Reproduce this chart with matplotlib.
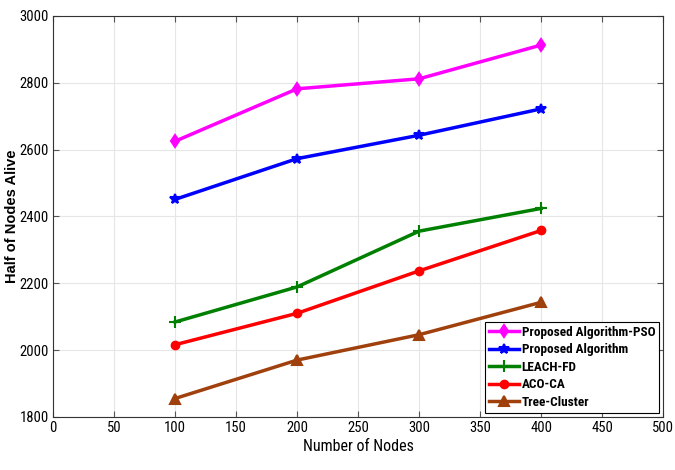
import matplotlib
matplotlib.use("Agg")
import matplotlib.pyplot as plt

# data
nodes = [100, 200, 300, 400]
pso = [2625, 2782, 2812, 2913]
proposed = [2451, 2573, 2643, 2722]
leach_fd = [2084, 2189, 2356, 2424]
aco_ca = [2016, 2110, 2237, 2358]
tree_cluster = [1855, 1970, 2046, 2143]

labels = ["Proposed Algorithm-PSO", "Proposed Algorithm", "LEACH-FD", "ACO-CA", "Tree-Cluster"]
series = [pso, proposed, leach_fd, aco_ca, tree_cluster]
colors = ["#FF00FF", "#0000FF", "#008000", "#FF0000", "#A0410D"]
markers = ["d", "*", "+", "o", "^"]
msizes = [6.5, 7.5, 8, 5.5, 6.5]

xticks = list(range(0, 501, 50))
yticks = list(range(1800, 3001, 200))

COND = ["Roboto Condensed", "DejaVu Sans"]
plt.rcParams["font.family"] = COND

fig = plt.figure(figsize=(6.75, 4.7), dpi=100)
ax = fig.add_axes([0.0785, 0.113, 0.904, 0.853])

for vals, lab, c, m, ms in zip(series, labels, colors, markers, msizes):
    ax.plot(nodes, vals, color=c, marker=m, markersize=ms, linewidth=2.5,
            markeredgewidth=1.5, label=lab)

ax.set_xlim(0, 500)
ax.set_ylim(1800, 3000)
ax.set_xticks(xticks)
ax.set_yticks(yticks)
ax.tick_params(direction="in", top=True, right=True, labelsize=10.5, length=4,
               color="#555555", pad=3)
ax.grid(True, color="#e6e6e6", linewidth=0.8)
ax.set_axisbelow(True)
for s in ax.spines.values():
    s.set_color("#333333")
    s.set_linewidth(0.8)

ax.set_xlabel("Number of Nodes", fontsize=11.5, labelpad=3)
ax.set_ylabel("Half of Nodes Alive", fontsize=10.5, fontweight="bold",
              family=["Liberation Sans", "DejaVu Sans"])
ax.yaxis.set_label_coords(-0.056, 0.5)

leg = ax.legend(loc="lower right", fancybox=False, edgecolor="black", framealpha=1,
                borderaxespad=0.3, handlelength=2.3, handletextpad=0.2,
                labelspacing=0.35, borderpad=0.3,
                prop={"weight": "bold", "size": 9.5, "family": COND})
leg.get_frame().set_linewidth(0.8)

fig.savefig("out.png", dpi=100)
